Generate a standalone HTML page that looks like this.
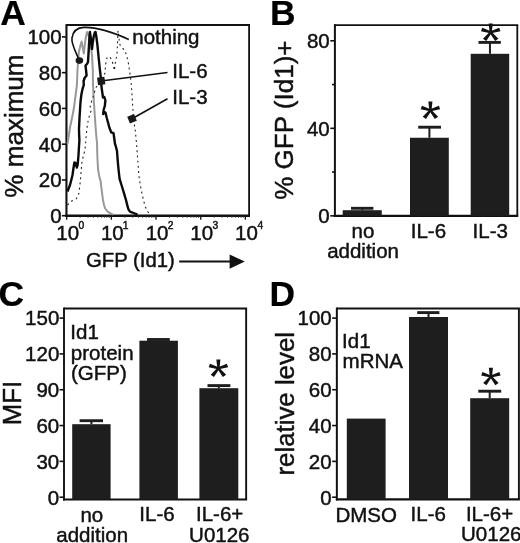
<!DOCTYPE html>
<html><head><meta charset="utf-8"><title>Figure</title>
<style>
html,body{margin:0;padding:0;background:#fff;}
body{width:520px;height:543px;overflow:hidden;font-family:"Liberation Sans",sans-serif;}
svg{display:block;filter:grayscale(1);font-family:"Liberation Sans",sans-serif;}
</style></head><body>
<svg width="520" height="543" viewBox="0 0 520 543">
<rect width="520" height="543" fill="#ffffff"/>
<text transform="translate(0.26,25.10) scale(1.0000,1)" font-size="35.4" font-weight="bold" fill="#000" stroke="#000" stroke-width="0.2">A</text>
<line x1="66.45" y1="24.10" x2="66.45" y2="217.00" stroke="#111" stroke-width="2.1" />
<line x1="65.40" y1="215.80" x2="250.00" y2="215.80" stroke="#111" stroke-width="2.4" />
<line x1="66.45" y1="25.00" x2="250.00" y2="25.00" stroke="#111" stroke-width="1.8" />
<line x1="249.10" y1="25.00" x2="249.10" y2="215.80" stroke="#111" stroke-width="1.8" />
<line x1="61.90" y1="36.90" x2="66.45" y2="36.90" stroke="#111" stroke-width="1.6" />
<text transform="translate(27.39,44.25) scale(1.0000,1)" font-size="20.5" fill="#111" stroke="#111" stroke-width="0.45">100</text>
<line x1="61.90" y1="72.66" x2="66.45" y2="72.66" stroke="#111" stroke-width="1.6" />
<text transform="translate(38.77,80.01) scale(1.0000,1)" font-size="20.5" fill="#111" stroke="#111" stroke-width="0.45">80</text>
<line x1="61.90" y1="108.42" x2="66.45" y2="108.42" stroke="#111" stroke-width="1.6" />
<text transform="translate(38.77,115.77) scale(1.0000,1)" font-size="20.5" fill="#111" stroke="#111" stroke-width="0.45">60</text>
<line x1="61.90" y1="144.18" x2="66.45" y2="144.18" stroke="#111" stroke-width="1.6" />
<text transform="translate(38.77,151.53) scale(1.0000,1)" font-size="20.5" fill="#111" stroke="#111" stroke-width="0.45">40</text>
<line x1="61.90" y1="179.94" x2="66.45" y2="179.94" stroke="#111" stroke-width="1.6" />
<text transform="translate(38.77,187.29) scale(1.0000,1)" font-size="20.5" fill="#111" stroke="#111" stroke-width="0.45">20</text>
<line x1="61.90" y1="215.70" x2="66.45" y2="215.70" stroke="#111" stroke-width="1.6" />
<text transform="translate(50.14,223.05) scale(1.0000,1)" font-size="20.5" fill="#111" stroke="#111" stroke-width="0.45">0</text>
<line x1="66.70" y1="215.70" x2="66.70" y2="219.70" stroke="#111" stroke-width="1.3" />
<line x1="80.15" y1="215.70" x2="80.15" y2="217.90" stroke="#333" stroke-width="0.8" />
<line x1="88.01" y1="215.70" x2="88.01" y2="217.90" stroke="#333" stroke-width="0.8" />
<line x1="93.59" y1="215.70" x2="93.59" y2="217.90" stroke="#333" stroke-width="0.8" />
<line x1="97.92" y1="215.70" x2="97.92" y2="217.90" stroke="#333" stroke-width="0.8" />
<line x1="101.46" y1="215.70" x2="101.46" y2="217.90" stroke="#333" stroke-width="0.8" />
<line x1="104.45" y1="215.70" x2="104.45" y2="217.90" stroke="#333" stroke-width="0.8" />
<line x1="107.04" y1="215.70" x2="107.04" y2="217.90" stroke="#333" stroke-width="0.8" />
<line x1="109.33" y1="215.70" x2="109.33" y2="217.90" stroke="#333" stroke-width="0.8" />
<text transform="translate(56.26,239.70) scale(1.0000,1)" font-size="20.5" fill="#111" stroke="#111" stroke-width="0.45">10</text>
<text transform="translate(78.49,228.80) scale(1.0000,1)" font-size="10.3" fill="#111" stroke="#111" stroke-width="0.45">0</text>
<line x1="111.37" y1="215.70" x2="111.37" y2="219.70" stroke="#111" stroke-width="1.3" />
<line x1="124.82" y1="215.70" x2="124.82" y2="217.90" stroke="#333" stroke-width="0.8" />
<line x1="132.68" y1="215.70" x2="132.68" y2="217.90" stroke="#333" stroke-width="0.8" />
<line x1="138.26" y1="215.70" x2="138.26" y2="217.90" stroke="#333" stroke-width="0.8" />
<line x1="142.59" y1="215.70" x2="142.59" y2="217.90" stroke="#333" stroke-width="0.8" />
<line x1="146.13" y1="215.70" x2="146.13" y2="217.90" stroke="#333" stroke-width="0.8" />
<line x1="149.12" y1="215.70" x2="149.12" y2="217.90" stroke="#333" stroke-width="0.8" />
<line x1="151.71" y1="215.70" x2="151.71" y2="217.90" stroke="#333" stroke-width="0.8" />
<line x1="154.00" y1="215.70" x2="154.00" y2="217.90" stroke="#333" stroke-width="0.8" />
<text transform="translate(100.96,239.70) scale(1.0000,1)" font-size="20.5" fill="#111" stroke="#111" stroke-width="0.45">10</text>
<text transform="translate(122.83,228.80) scale(1.0000,1)" font-size="10.3" fill="#111" stroke="#111" stroke-width="0.45">1</text>
<line x1="156.04" y1="215.70" x2="156.04" y2="219.70" stroke="#111" stroke-width="1.3" />
<line x1="169.49" y1="215.70" x2="169.49" y2="217.90" stroke="#333" stroke-width="0.8" />
<line x1="177.35" y1="215.70" x2="177.35" y2="217.90" stroke="#333" stroke-width="0.8" />
<line x1="182.93" y1="215.70" x2="182.93" y2="217.90" stroke="#333" stroke-width="0.8" />
<line x1="187.26" y1="215.70" x2="187.26" y2="217.90" stroke="#333" stroke-width="0.8" />
<line x1="190.80" y1="215.70" x2="190.80" y2="217.90" stroke="#333" stroke-width="0.8" />
<line x1="193.79" y1="215.70" x2="193.79" y2="217.90" stroke="#333" stroke-width="0.8" />
<line x1="196.38" y1="215.70" x2="196.38" y2="217.90" stroke="#333" stroke-width="0.8" />
<line x1="198.67" y1="215.70" x2="198.67" y2="217.90" stroke="#333" stroke-width="0.8" />
<text transform="translate(145.66,239.70) scale(1.0000,1)" font-size="20.5" fill="#111" stroke="#111" stroke-width="0.45">10</text>
<text transform="translate(167.79,228.80) scale(1.0000,1)" font-size="10.3" fill="#111" stroke="#111" stroke-width="0.45">2</text>
<line x1="200.71" y1="215.70" x2="200.71" y2="219.70" stroke="#111" stroke-width="1.3" />
<line x1="214.16" y1="215.70" x2="214.16" y2="217.90" stroke="#333" stroke-width="0.8" />
<line x1="222.02" y1="215.70" x2="222.02" y2="217.90" stroke="#333" stroke-width="0.8" />
<line x1="227.60" y1="215.70" x2="227.60" y2="217.90" stroke="#333" stroke-width="0.8" />
<line x1="231.93" y1="215.70" x2="231.93" y2="217.90" stroke="#333" stroke-width="0.8" />
<line x1="235.47" y1="215.70" x2="235.47" y2="217.90" stroke="#333" stroke-width="0.8" />
<line x1="238.46" y1="215.70" x2="238.46" y2="217.90" stroke="#333" stroke-width="0.8" />
<line x1="241.05" y1="215.70" x2="241.05" y2="217.90" stroke="#333" stroke-width="0.8" />
<line x1="243.34" y1="215.70" x2="243.34" y2="217.90" stroke="#333" stroke-width="0.8" />
<text transform="translate(190.36,239.70) scale(1.0000,1)" font-size="20.5" fill="#111" stroke="#111" stroke-width="0.45">10</text>
<text transform="translate(212.59,228.80) scale(1.0000,1)" font-size="10.3" fill="#111" stroke="#111" stroke-width="0.45">3</text>
<line x1="245.38" y1="215.70" x2="245.38" y2="219.70" stroke="#111" stroke-width="1.3" />
<text transform="translate(235.06,239.70) scale(1.0000,1)" font-size="20.5" fill="#111" stroke="#111" stroke-width="0.45">10</text>
<text transform="translate(257.44,228.80) scale(1.0000,1)" font-size="10.3" fill="#111" stroke="#111" stroke-width="0.45">4</text>
<text transform="translate(86.05,267.00) scale(1.0000,1)" font-size="20.3" fill="#111" stroke="#111" stroke-width="0.45">GFP (Id1)</text>
<line x1="179.20" y1="261.50" x2="232.00" y2="261.50" stroke="#111" stroke-width="1.9" />
<polygon points="229.6,254.4 244.8,261.6 229.6,268.8" fill="#111"/>
<polyline points="67.5,144.0 70.0,127.5 72.0,118.0 73.8,108.8 75.5,96.0 76.9,85.0 77.5,70.0 78.2,60.0 78.8,52.5 80.3,46.0 81.7,41.6 82.6,47.0 83.8,53.5 84.8,45.0 85.8,37.5 87.0,32.0 88.0,34.0 89.0,37.0 90.5,44.0 92.0,55.0 92.8,70.0 93.0,85.0 93.7,98.0 94.4,110.0 95.3,123.0 96.2,135.0 97.0,143.0 97.3,155.0 98.0,168.8 99.2,176.0 100.6,181.2 101.8,191.0 103.0,200.0 104.0,205.0 105.2,208.5 107.5,211.5 110.0,213.2 113.0,214.6" fill="none" stroke="#989898" stroke-width="2.0" stroke-linejoin="round" />
<polyline points="67.5,205.0 69.5,203.0 71.2,201.2 74.0,200.0 76.2,198.8 77.8,196.5 78.8,193.8 79.8,186.0 80.6,178.8 81.2,170.0 81.9,162.5 83.3,156.0 85.0,150.0 85.7,142.0 86.2,135.0 87.0,128.0 87.8,122.5 89.3,116.0 91.0,111.0 90.2,106.0 91.6,101.0 93.0,97.0 94.5,92.0 96.0,87.5 98.5,84.0 101.0,81.0 103.0,77.0 105.0,73.0 105.3,69.0 105.6,65.0 106.2,61.0 107.0,58.0 108.0,57.0 109.0,57.5 110.0,57.0 111.0,58.8 112.2,61.5 113.3,65.0 114.4,70.5 114.9,66.0 115.6,61.0 116.4,57.5 117.0,55.0 117.3,49.0 117.6,40.0 118.0,30.6 118.6,35.0 119.2,40.0 120.0,45.0 122.5,48.0 125.0,51.0 126.6,55.5 128.0,61.0 129.0,67.0 130.0,74.0 130.6,78.0 131.1,82.5 131.6,89.0 132.0,95.0 132.7,106.0 133.5,118.0 134.5,125.0 135.5,132.5 136.3,141.0 137.0,150.0 137.9,162.0 138.8,175.0 140.3,185.0 142.0,193.8 143.5,200.0 145.0,206.0 146.3,209.0 147.6,211.5 150.0,214.5" fill="none" stroke="#222" stroke-width="1.1" stroke-linejoin="round" stroke-dasharray="1.9 3.3"/>
<polyline points="67.5,191.5 68.8,188.0 70.0,185.0 71.3,180.0 72.5,175.0 73.5,168.0 74.4,162.5 75.5,162.8 76.2,165.5 76.9,167.5 77.6,165.0 78.0,161.0 78.5,155.0 78.9,148.0 79.4,140.0 79.1,134.0 79.0,128.8 79.5,118.0 80.0,110.0 80.6,101.0 81.4,94.5 82.5,89.0 83.8,85.0 83.6,81.0 84.6,78.0 86.6,75.5 86.0,70.0 85.5,65.5 87.0,64.0 88.0,62.0 88.6,52.0 89.2,41.0 89.9,32.0 90.8,38.0 91.5,44.0 92.0,49.0 92.8,42.0 93.8,36.0 94.8,32.5 95.5,32.0 96.4,37.0 97.4,45.0 98.6,57.0 99.8,69.0 101.0,79.0 101.3,85.0 102.2,92.0 103.0,97.5 104.3,97.0 105.4,100.5 104.8,106.0 103.6,110.0 103.2,114.0 104.5,112.0 105.6,113.0 106.8,118.0 108.0,122.5 109.5,128.0 111.2,132.3 113.5,133.2 114.2,138.0 115.0,143.8 116.0,147.0 117.0,151.0 117.6,159.0 118.2,166.0 118.8,172.0 119.6,178.8 121.8,186.0 124.2,193.8 126.0,200.0 127.5,206.2 128.5,209.5 130.0,211.6 133.5,213.0 137.5,214.6" fill="none" stroke="#0a0a0a" stroke-width="2.4" stroke-linejoin="round" />
<path d="M79.4,60.6 C76,52 71,44 72,38 C73,31 78,27.6 84,27.4 C95,27 110,31 128.8,39.4" fill="none" stroke="#111" stroke-width="1.6"/>
<ellipse cx="79.4" cy="60.6" rx="3.8" ry="3.3" fill="#1a1a1a"/>
<line x1="101.00" y1="81.00" x2="167.50" y2="72.50" stroke="#111" stroke-width="1.6" />
<rect x="-3.7" y="-3.7" width="7.4" height="7.4" fill="#1a1a1a" transform="translate(101.2,81) rotate(-8)"/>
<line x1="132.00" y1="118.75" x2="167.50" y2="98.75" stroke="#111" stroke-width="1.6" />
<rect x="-3.7" y="-3.7" width="7.4" height="7.4" fill="#1a1a1a" transform="translate(132,118.75) rotate(-22)"/>
<text transform="translate(132.27,44.25) scale(1.0000,1)" font-size="20.5" fill="#111" stroke="#111" stroke-width="0.45">nothing</text>
<text transform="translate(172.25,78.00) scale(1.0000,1)" font-size="20.5" fill="#111" stroke="#111" stroke-width="0.45">IL-6</text>
<text transform="translate(172.25,104.25) scale(1.0000,1)" font-size="20.5" fill="#111" stroke="#111" stroke-width="0.45">IL-3</text>
<text transform="translate(23.20,197.71) rotate(-90) scale(1.0021,1.0000)" font-size="26" fill="#111" stroke="#111" stroke-width="0.45">% maximum</text>
<text transform="translate(270.05,25.40) scale(1.0000,1)" font-size="35.4" font-weight="bold" fill="#000" stroke="#000" stroke-width="0.2">B</text>
<line x1="334.90" y1="24.15" x2="334.90" y2="216.95" stroke="#111" stroke-width="2.0" />
<line x1="333.90" y1="215.85" x2="518.20" y2="215.85" stroke="#111" stroke-width="2.2" />
<line x1="334.90" y1="25.05" x2="518.20" y2="25.05" stroke="#111" stroke-width="1.8" />
<line x1="517.30" y1="25.05" x2="517.30" y2="215.85" stroke="#111" stroke-width="1.8" />
<line x1="330.30" y1="215.85" x2="334.90" y2="215.85" stroke="#111" stroke-width="1.6" />
<line x1="332.00" y1="172.09" x2="334.90" y2="172.09" stroke="#111" stroke-width="1.6" />
<line x1="330.30" y1="128.32" x2="334.90" y2="128.32" stroke="#111" stroke-width="1.6" />
<line x1="332.00" y1="84.56" x2="334.90" y2="84.56" stroke="#111" stroke-width="1.6" />
<line x1="330.30" y1="40.80" x2="334.90" y2="40.80" stroke="#111" stroke-width="1.6" />
<text transform="translate(306.97,48.00) scale(1.0000,1)" font-size="20.5" fill="#111" stroke="#111" stroke-width="0.45">80</text>
<text transform="translate(306.97,135.62) scale(1.0000,1)" font-size="20.5" fill="#111" stroke="#111" stroke-width="0.45">40</text>
<text transform="translate(318.34,223.20) scale(1.0000,1)" font-size="20.5" fill="#111" stroke="#111" stroke-width="0.45">0</text>
<rect x="342.70" y="210.20" width="39.05" height="5.65" fill="#1e1e1e"/>
<line x1="362.23" y1="210.20" x2="362.23" y2="208.30" stroke="#1e1e1e" stroke-width="2.0" />
<line x1="351.00" y1="208.30" x2="373.40" y2="208.30" stroke="#1e1e1e" stroke-width="2.9" />
<rect x="410.00" y="137.75" width="38.80" height="78.10" fill="#1e1e1e"/>
<line x1="429.40" y1="137.75" x2="429.40" y2="127.20" stroke="#1e1e1e" stroke-width="2.0" />
<line x1="418.20" y1="127.20" x2="441.00" y2="127.20" stroke="#1e1e1e" stroke-width="2.9" />
<rect x="470.70" y="53.80" width="38.50" height="162.05" fill="#1e1e1e"/>
<line x1="489.95" y1="53.80" x2="489.95" y2="42.40" stroke="#1e1e1e" stroke-width="2.0" />
<line x1="478.50" y1="42.40" x2="500.80" y2="42.40" stroke="#1e1e1e" stroke-width="2.9" />
<polygon points="431.50,110.30 432.44,101.60 428.36,101.60 429.30,110.30" fill="#111"/>
<polygon points="430.74,111.25 440.13,109.37 438.87,105.85 430.06,109.35" fill="#111"/>
<polygon points="429.51,110.89 434.83,118.99 438.12,116.81 431.29,109.71" fill="#111"/>
<polygon points="429.51,109.71 422.68,116.81 425.97,118.99 431.29,110.89" fill="#111"/>
<polygon points="430.74,109.35 421.93,105.85 420.67,109.37 430.06,111.25" fill="#111"/>
<circle cx="430.40" cy="110.30" r="1.5" fill="#111"/>
<polygon points="491.80,32.30 492.74,23.60 488.66,23.60 489.60,32.30" fill="#111"/>
<polygon points="491.04,33.25 500.43,31.37 499.17,27.85 490.36,31.35" fill="#111"/>
<polygon points="489.81,32.89 495.13,40.99 498.42,38.81 491.59,31.71" fill="#111"/>
<polygon points="489.81,31.71 482.98,38.81 486.27,40.99 491.59,32.89" fill="#111"/>
<polygon points="491.04,31.35 482.23,27.85 480.97,31.37 490.36,33.25" fill="#111"/>
<circle cx="490.70" cy="32.30" r="1.5" fill="#111"/>
<text transform="translate(351.62,237.60) scale(1.0000,1)" font-size="20.5" fill="#111" stroke="#111" stroke-width="0.45">no</text>
<text transform="translate(327.13,258.20) scale(1.0000,1)" font-size="20.5" fill="#111" stroke="#111" stroke-width="0.45">addition</text>
<text transform="translate(410.76,237.70) scale(1.0000,1)" font-size="20.5" fill="#111" stroke="#111" stroke-width="0.45">IL-6</text>
<text transform="translate(472.56,237.70) scale(1.0000,1)" font-size="20.5" fill="#111" stroke="#111" stroke-width="0.45">IL-3</text>
<text transform="translate(292.80,199.81) rotate(-90) scale(1.0010,1.0200)" font-size="26" fill="#111" stroke="#111" stroke-width="0.45">% GFP (Id1)+</text>
<text transform="translate(-1.46,305.90) scale(1.0000,1)" font-size="35.4" font-weight="bold" fill="#000" stroke="#000" stroke-width="0.2">C</text>
<line x1="64.00" y1="307.60" x2="64.00" y2="500.60" stroke="#111" stroke-width="1.9" />
<line x1="63.05" y1="499.55" x2="247.10" y2="499.55" stroke="#111" stroke-width="2.1" />
<line x1="64.00" y1="308.55" x2="247.10" y2="308.55" stroke="#111" stroke-width="1.9" />
<line x1="246.15" y1="308.55" x2="246.15" y2="499.55" stroke="#111" stroke-width="1.9" />
<line x1="59.50" y1="318.10" x2="64.00" y2="318.10" stroke="#111" stroke-width="1.6" />
<text transform="translate(25.09,325.45) scale(1.0000,1)" font-size="20.5" fill="#111" stroke="#111" stroke-width="0.45">150</text>
<line x1="59.50" y1="353.92" x2="64.00" y2="353.92" stroke="#111" stroke-width="1.6" />
<text transform="translate(25.09,361.27) scale(1.0000,1)" font-size="20.5" fill="#111" stroke="#111" stroke-width="0.45">120</text>
<line x1="59.50" y1="389.74" x2="64.00" y2="389.74" stroke="#111" stroke-width="1.6" />
<text transform="translate(36.46,397.09) scale(1.0000,1)" font-size="20.5" fill="#111" stroke="#111" stroke-width="0.45">90</text>
<line x1="59.50" y1="425.56" x2="64.00" y2="425.56" stroke="#111" stroke-width="1.6" />
<text transform="translate(36.46,432.91) scale(1.0000,1)" font-size="20.5" fill="#111" stroke="#111" stroke-width="0.45">60</text>
<line x1="59.50" y1="461.38" x2="64.00" y2="461.38" stroke="#111" stroke-width="1.6" />
<text transform="translate(36.46,468.73) scale(1.0000,1)" font-size="20.5" fill="#111" stroke="#111" stroke-width="0.45">30</text>
<line x1="59.50" y1="497.20" x2="64.00" y2="497.20" stroke="#111" stroke-width="1.6" />
<text transform="translate(47.84,504.55) scale(1.0000,1)" font-size="20.5" fill="#111" stroke="#111" stroke-width="0.45">0</text>
<rect x="72.20" y="424.20" width="38.40" height="75.35" fill="#1e1e1e"/>
<line x1="91.40" y1="424.20" x2="91.40" y2="420.70" stroke="#1e1e1e" stroke-width="2.0" />
<line x1="79.60" y1="420.70" x2="103.00" y2="420.70" stroke="#1e1e1e" stroke-width="2.9" />
<rect x="139.40" y="340.70" width="38.50" height="158.85" fill="#1e1e1e"/>
<line x1="158.65" y1="340.70" x2="158.65" y2="339.50" stroke="#1e1e1e" stroke-width="2.0" />
<line x1="147.00" y1="339.50" x2="169.80" y2="339.50" stroke="#1e1e1e" stroke-width="2.9" />
<rect x="199.40" y="388.20" width="38.90" height="111.35" fill="#1e1e1e"/>
<line x1="218.85" y1="388.20" x2="218.85" y2="385.60" stroke="#1e1e1e" stroke-width="2.0" />
<line x1="207.50" y1="385.60" x2="230.40" y2="385.60" stroke="#1e1e1e" stroke-width="2.9" />
<polygon points="219.50,368.30 220.44,359.60 216.37,359.60 217.30,368.30" fill="#111"/>
<polygon points="218.74,369.25 228.13,367.37 226.87,363.85 218.06,367.35" fill="#111"/>
<polygon points="217.51,368.89 222.83,376.99 226.12,374.81 219.29,367.71" fill="#111"/>
<polygon points="217.51,367.71 210.68,374.81 213.97,376.99 219.29,368.89" fill="#111"/>
<polygon points="218.74,367.35 209.93,363.85 208.67,367.37 218.06,369.25" fill="#111"/>
<circle cx="218.40" cy="368.30" r="1.5" fill="#111"/>
<text transform="translate(70.36,338.90) scale(1.0000,1)" font-size="20.5" fill="#111" stroke="#111" stroke-width="0.45">Id1</text>
<text transform="translate(70.87,359.65) scale(1.0000,1)" font-size="20.5" fill="#111" stroke="#111" stroke-width="0.45">protein</text>
<text transform="translate(70.97,380.40) scale(1.0000,1)" font-size="20.5" fill="#111" stroke="#111" stroke-width="0.45">(GFP)</text>
<text transform="translate(80.47,521.50) scale(1.0000,1)" font-size="20.5" fill="#111" stroke="#111" stroke-width="0.45">no</text>
<text transform="translate(56.28,542.00) scale(1.0000,1)" font-size="20.5" fill="#111" stroke="#111" stroke-width="0.45">addition</text>
<text transform="translate(139.36,521.00) scale(1.0000,1)" font-size="20.5" fill="#111" stroke="#111" stroke-width="0.45">IL-6</text>
<text transform="translate(195.96,521.00) scale(1.0000,1)" font-size="20.5" fill="#111" stroke="#111" stroke-width="0.45">IL-6+</text>
<text transform="translate(189.11,541.70) scale(1.0000,1)" font-size="20.5" fill="#111" stroke="#111" stroke-width="0.45">U0126</text>
<text transform="translate(20.60,425.26) rotate(-90) scale(1.0016,1.0200)" font-size="25.7" fill="#111" stroke="#111" stroke-width="0.45">MFI</text>
<text transform="translate(269.51,305.70) scale(1.0000,1)" font-size="35.4" font-weight="bold" fill="#000" stroke="#000" stroke-width="0.2">D</text>
<line x1="336.85" y1="307.50" x2="336.85" y2="500.45" stroke="#111" stroke-width="2.0" />
<line x1="335.85" y1="499.40" x2="519.85" y2="499.40" stroke="#111" stroke-width="2.1" />
<line x1="336.85" y1="308.45" x2="519.85" y2="308.45" stroke="#111" stroke-width="1.9" />
<line x1="518.90" y1="308.45" x2="518.90" y2="499.40" stroke="#111" stroke-width="1.9" />
<line x1="332.10" y1="318.10" x2="336.85" y2="318.10" stroke="#111" stroke-width="1.6" />
<text transform="translate(297.49,325.45) scale(1.0000,1)" font-size="20.5" fill="#111" stroke="#111" stroke-width="0.45">100</text>
<line x1="332.10" y1="353.92" x2="336.85" y2="353.92" stroke="#111" stroke-width="1.6" />
<text transform="translate(308.87,361.27) scale(1.0000,1)" font-size="20.5" fill="#111" stroke="#111" stroke-width="0.45">80</text>
<line x1="332.10" y1="389.74" x2="336.85" y2="389.74" stroke="#111" stroke-width="1.6" />
<text transform="translate(308.87,397.09) scale(1.0000,1)" font-size="20.5" fill="#111" stroke="#111" stroke-width="0.45">60</text>
<line x1="332.10" y1="425.56" x2="336.85" y2="425.56" stroke="#111" stroke-width="1.6" />
<text transform="translate(308.87,432.91) scale(1.0000,1)" font-size="20.5" fill="#111" stroke="#111" stroke-width="0.45">40</text>
<line x1="332.10" y1="461.38" x2="336.85" y2="461.38" stroke="#111" stroke-width="1.6" />
<text transform="translate(308.87,468.73) scale(1.0000,1)" font-size="20.5" fill="#111" stroke="#111" stroke-width="0.45">20</text>
<line x1="332.10" y1="497.20" x2="336.85" y2="497.20" stroke="#111" stroke-width="1.6" />
<text transform="translate(320.24,504.55) scale(1.0000,1)" font-size="20.5" fill="#111" stroke="#111" stroke-width="0.45">0</text>
<rect x="346.80" y="418.60" width="38.80" height="80.80" fill="#1e1e1e"/>
<rect x="409.00" y="317.00" width="39.00" height="182.40" fill="#1e1e1e"/>
<line x1="428.50" y1="317.00" x2="428.50" y2="312.60" stroke="#1e1e1e" stroke-width="2.0" />
<line x1="417.20" y1="312.60" x2="439.40" y2="312.60" stroke="#1e1e1e" stroke-width="2.9" />
<rect x="470.20" y="398.20" width="39.00" height="101.20" fill="#1e1e1e"/>
<line x1="489.70" y1="398.20" x2="489.70" y2="391.20" stroke="#1e1e1e" stroke-width="2.0" />
<line x1="478.30" y1="391.20" x2="501.20" y2="391.20" stroke="#1e1e1e" stroke-width="2.9" />
<polygon points="492.00,376.50 492.94,367.80 488.86,367.80 489.80,376.50" fill="#111"/>
<polygon points="491.24,377.45 500.63,375.57 499.37,372.05 490.56,375.55" fill="#111"/>
<polygon points="490.01,377.09 495.33,385.19 498.62,383.01 491.79,375.91" fill="#111"/>
<polygon points="490.01,375.91 483.18,383.01 486.47,385.19 491.79,377.09" fill="#111"/>
<polygon points="491.24,375.55 482.43,372.05 481.17,375.57 490.56,377.45" fill="#111"/>
<circle cx="490.90" cy="376.50" r="1.5" fill="#111"/>
<text transform="translate(342.05,347.50) scale(1.0000,1)" font-size="20.5" fill="#111" stroke="#111" stroke-width="0.45">Id1</text>
<text transform="translate(342.57,367.50) scale(1.0000,1)" font-size="20.5" fill="#111" stroke="#111" stroke-width="0.45">mRNA</text>
<text transform="translate(335.49,521.50) scale(1.0000,1)" font-size="20.5" fill="#111" stroke="#111" stroke-width="0.45">DMSO</text>
<text transform="translate(410.56,521.00) scale(1.0000,1)" font-size="20.5" fill="#111" stroke="#111" stroke-width="0.45">IL-6</text>
<text transform="translate(465.91,521.30) scale(1.0000,1)" font-size="20.5" fill="#111" stroke="#111" stroke-width="0.45">IL-6+</text>
<text transform="translate(461.06,540.80) scale(1.0000,1)" font-size="20.5" fill="#111" stroke="#111" stroke-width="0.45">U0126</text>
<text transform="translate(294.00,475.58) rotate(-90) scale(1.0017,1.0000)" font-size="25.8" fill="#111" stroke="#111" stroke-width="0.45">relative level</text>
</svg>
</body></html>
